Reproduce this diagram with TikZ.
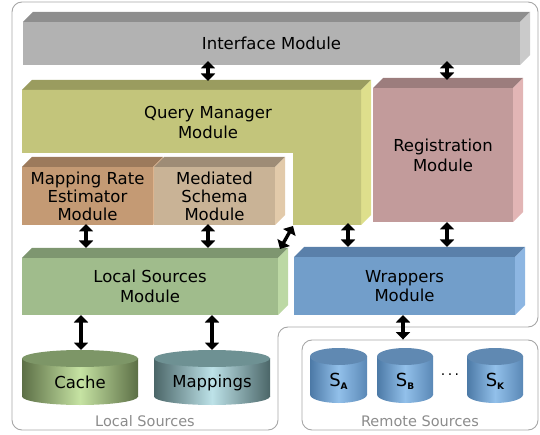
\documentclass[tikz,border=0pt]{standalone}
\usepackage{fontspec}
\setmainfont{DejaVu Sans}
\usetikzlibrary{arrows.meta,calc}
\definecolor{imfront}{HTML}{B2B2B2}\definecolor{imtop}{HTML}{8E8E8E}\definecolor{imside}{HTML}{CACACA}
\definecolor{qmfront}{HTML}{C3C57B}\definecolor{qmtop}{HTML}{9A9C5F}\definecolor{qmside}{HTML}{DEDF8C}
\definecolor{mrefront}{HTML}{C49A74}\definecolor{mretop}{HTML}{9C7A5C}\definecolor{mreside}{HTML}{DDB48E}
\definecolor{msfront}{HTML}{C9B396}\definecolor{mstop}{HTML}{9E8C76}\definecolor{msside}{HTML}{E2CAAA}
\definecolor{regfront}{HTML}{C29B9B}\definecolor{regtop}{HTML}{9C7D7D}\definecolor{regside}{HTML}{E2B5B5}
\definecolor{lsfront}{HTML}{A0BC8C}\definecolor{lstop}{HTML}{7E9670}\definecolor{lsside}{HTML}{BCD8A4}
\definecolor{wrfront}{HTML}{729ECA}\definecolor{wrtop}{HTML}{5A80AA}\definecolor{wrside}{HTML}{8DB6E2}
\definecolor{caedge}{HTML}{5C6F46}\definecolor{camid}{HTML}{C6E3A3}\definecolor{catop}{HTML}{7D9667}
\definecolor{maedge}{HTML}{4B6668}\definecolor{mamid}{HTML}{BDE2E8}\definecolor{matop}{HTML}{6E9193}
\definecolor{rsleft}{HTML}{4C79A6}\definecolor{rsmid}{HTML}{92C0EA}\definecolor{rsright}{HTML}{5A88B6}\definecolor{rstop}{HTML}{6089B2}
\definecolor{frame}{HTML}{A6A6A6}\definecolor{grplab}{HTML}{8C8C8C}
\tikzset{
  mod/.style={inner sep=0pt, outer sep=0pt, align=center, font=\fontsize{16.5}{20}\selectfont, text=black},
  dbl/.style={line width=3.4pt, {Triangle[width=14pt,length=7.5pt]}-{Triangle[width=14pt,length=7.5pt]}},
  grp/.style={draw=frame, line width=0.9pt, rounded corners=10pt},
  grplabel/.style={text=grplab, font=\fontsize{14.5}{16}\selectfont},
  cyltext/.style={inner sep=0pt, font=\fontsize{16.5}{18}\selectfont, text=black},
}
\newcommand{\tdbox}[9]{%
  \fill[#7] (#2,#3) -- (#2+10,#3-10) -- (#4+10,#3-10) -- (#4,#3) -- cycle;
  \fill[#8] (#4,#3) -- (#4+10,#3-10) -- (#4+10,#5-10) -- (#4,#5) -- cycle;
  \node[mod, fill=#6, minimum width={(#4-#2)*1pt}, minimum height={(#5-#3)*1pt}] (#1) at ({(#2+#4)/2},{(#3+#5)/2}) {#9};
  \coordinate (#1-t) at ([yshift=10pt]#1.north);
}
% name, x1, x2, ytop, ybot, edge, mid, top, text
\newcommand{\cyl}[9]{%
  \shade[left color=#6, right color=#6, middle color=#7] (#2,#4+8.5) rectangle (#3,#5-8.5);
  \shade[left color=#6, right color=#6, middle color=#7] ({(#2+#3)/2},#5-8.5) ellipse [x radius={(#3-#2)/2*1pt}, y radius=8.5pt];
  \fill[#8] ({(#2+#3)/2},#4+8.5) ellipse [x radius={(#3-#2)/2*1pt}, y radius=8.5pt];
  \coordinate (#1) at ({(#2+#3)/2},#4);
  \node[cyltext] (#1-l) at ({(#2+#3)/2},{(#4+#5)/2+5}) {#9};
}
\newcommand{\rcyl}[5]{%
  \shade[left color=rsleft, right color=rsright, middle color=rsmid] (#2,#4+8.5) rectangle (#3,#5-8.5);
  \shade[left color=rsleft, right color=rsright, middle color=rsmid] ({(#2+#3)/2},#5-8.5) ellipse [x radius={(#3-#2)/2*1pt}, y radius=8.5pt];
  \fill[rstop] ({(#2+#3)/2},#4+8.5) ellipse [x radius={(#3-#2)/2*1pt}, y radius=8.5pt];
}
\newcommand{\srcname}[1]{{\fontsize{18}{18}\selectfont S}\raisebox{-3pt}{\fontsize{9}{9}\selectfont\bfseries #1}}
\begin{document}
\begin{tikzpicture}[x=1pt,y=-1pt]
\useasboundingbox (0,0) rectangle (540,435);
% group frames
\draw[grp] (12,2) -- (538,2) -- (538,327) -- (278,327) -- (278,430) -- (12,430) -- cycle;
\node[grp, minimum width=236pt, minimum height=90pt, inner sep=0pt] (rs) at (420,385) {};
\node[grplabel] (lslab) at (145,421) {Local Sources};
\node[grplabel] (rslab) at (420,421) {Remote Sources};
% interface
\tdbox{im}{23}{22}{520}{65}{imfront}{imtop}{imside}{Interface Module}
% query manager (L shape)
\fill[qmtop] (22,90) -- (32,80) -- (371,80) -- (361,90) -- cycle;
\fill[qmside] (361,90) -- (371,80) -- (371,215) -- (361,225) -- cycle;
\fill[qmfront] (22,90) -- (361,90) -- (361,225) -- (293,225) -- (293,153) -- (22,153) -- cycle;
\node[mod] (qm) at (208,122) {Query Manager\\Module};
\coordinate (qm-t) at (208,81);
\coordinate (qmleg) at (293,226);
\coordinate (qmleg-b) at (348,223);
% sub modules
\begin{scope}[mod/.append style={font=\fontsize{16.5}{18}\selectfont}]
\tdbox{mre}{22}{167}{153}{225}{mrefront}{mretop}{mreside}{Mapping Rate\\Estimator\\Module}
\tdbox{ms}{154}{167}{275}{225}{msfront}{mstop}{msside}{Mediated\\Schema\\Module}
\end{scope}
\tdbox{reg}{373}{88}{513}{222}{regfront}{regtop}{regside}{Registration\\Module}
\begin{scope}[mod/.append style={font=\fontsize{16.5}{19.5}\selectfont}]
\tdbox{ls}{22}{258}{278}{315}{lsfront}{lstop}{lsside}{Local Sources\\Module}
\tdbox{wr}{294}{257}{515}{315}{wrfront}{wrtop}{wrside}{Wrappers\\Module}
\end{scope}
% cylinders
\cyl{ca}{22}{138}{350}{405}{caedge}{camid}{catop}{Cache}
\cyl{ma}{154}{270}{350}{405}{maedge}{mamid}{matop}{Mappings}
\rcyl{sa}{310}{367}{348}{403}
\rcyl{sb}{377}{433}{348}{403}
\rcyl{sk}{467}{523}{348}{403}
\node[cyltext] (sa-l) at (338.5,381) {\srcname{A}};
\node[cyltext] (sb-l) at (405,381) {\srcname{B}};
\node[cyltext] (sk-l) at (495,381) {\srcname{K}};
\node[inner sep=0pt, font=\fontsize{14}{14}\selectfont] (dots) at (450,377) {·\,·\,·};
% connectors
\draw[dbl] ([yshift=4pt]im.south -| 208,0) -- (qm-t);
\draw[dbl] ([yshift=4pt]im.south -| 447,0) -- ([yshift=-2pt]reg-t -| 447,0);
\draw[dbl] ([yshift=1pt]mre.south -| 86,0) -- (ls-t -| 86,0);
\draw[dbl] ([yshift=1pt]ms.south -| 208,0) -- (ls-t -| 208,0);
\draw[dbl] (qmleg) -- ([shift={(2,-9)}]ls.north east);
\draw[dbl] (qmleg-b) -- (wr-t -| 348,0);
\draw[dbl] (reg.south -| 447,0) -- (wr-t -| 447,0);
\draw[dbl] (ls.south -| 81,0) -- (ca -| 81,0);
\draw[dbl] (ls.south -| 212,0) -- (ma -| 212,0);
\draw[dbl] (wr.south -| 403,0) -- (rs.north -| 403,0);
\end{tikzpicture}
\end{document}
